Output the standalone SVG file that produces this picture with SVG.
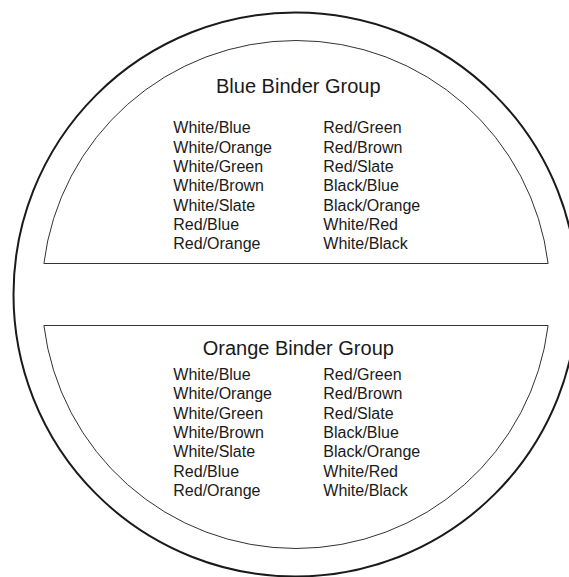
<svg xmlns="http://www.w3.org/2000/svg" width="569" height="577" viewBox="0 0 569 577">
<style>
.outer{fill:none;stroke:#1a1a1a;stroke-width:2}
.half{fill:#fff;stroke:#333;stroke-width:1}
.title{font-family:"Liberation Sans",Arial,sans-serif;font-size:20px;fill:#1a1a1a;text-anchor:middle}
.item{font-family:"Liberation Sans",Arial,sans-serif;font-size:16px;fill:#1a1a1a}
</style>
<rect x="0" y="0" width="569" height="577" fill="#fff"/>
<g id="cable">
<circle class="outer" cx="295.5" cy="294.5" r="282"/>
</g>
<g id="blue-binder-group">
<path class="half" d="M 43.9 263.5 A 254 254 0 0 1 548.1 263.5 Z"/>
<text class="title" x="298.3" y="93.3">Blue Binder Group</text>
<g class="item">
<text x="173.3" y="133.3">White/Blue</text>
<text x="173.3" y="152.6">White/Orange</text>
<text x="173.3" y="171.9">White/Green</text>
<text x="173.3" y="191.2">White/Brown</text>
<text x="173.3" y="210.5">White/Slate</text>
<text x="173.3" y="229.8">Red/Blue</text>
<text x="173.3" y="249.1">Red/Orange</text>
<text x="323.3" y="133.3">Red/Green</text>
<text x="323.3" y="152.6">Red/Brown</text>
<text x="323.3" y="171.9">Red/Slate</text>
<text x="323.3" y="191.2">Black/Blue</text>
<text x="323.3" y="210.5">Black/Orange</text>
<text x="323.3" y="229.8">White/Red</text>
<text x="323.3" y="249.1">White/Black</text>
</g>
</g>
<g id="orange-binder-group">
<path class="half" d="M 43.9 325.5 A 254 254 0 0 0 548.1 325.5 Z"/>
<text class="title" x="298.3" y="355.3">Orange Binder Group</text>
<g class="item">
<text x="173.3" y="379.7">White/Blue</text>
<text x="173.3" y="399.1">White/Orange</text>
<text x="173.3" y="418.5">White/Green</text>
<text x="173.3" y="437.9">White/Brown</text>
<text x="173.3" y="457.3">White/Slate</text>
<text x="173.3" y="476.7">Red/Blue</text>
<text x="173.3" y="496.1">Red/Orange</text>
<text x="323.3" y="379.7">Red/Green</text>
<text x="323.3" y="399.1">Red/Brown</text>
<text x="323.3" y="418.5">Red/Slate</text>
<text x="323.3" y="437.9">Black/Blue</text>
<text x="323.3" y="457.3">Black/Orange</text>
<text x="323.3" y="476.7">White/Red</text>
<text x="323.3" y="496.1">White/Black</text>
</g>
</g>
<g id="connectors"/>
</svg>
